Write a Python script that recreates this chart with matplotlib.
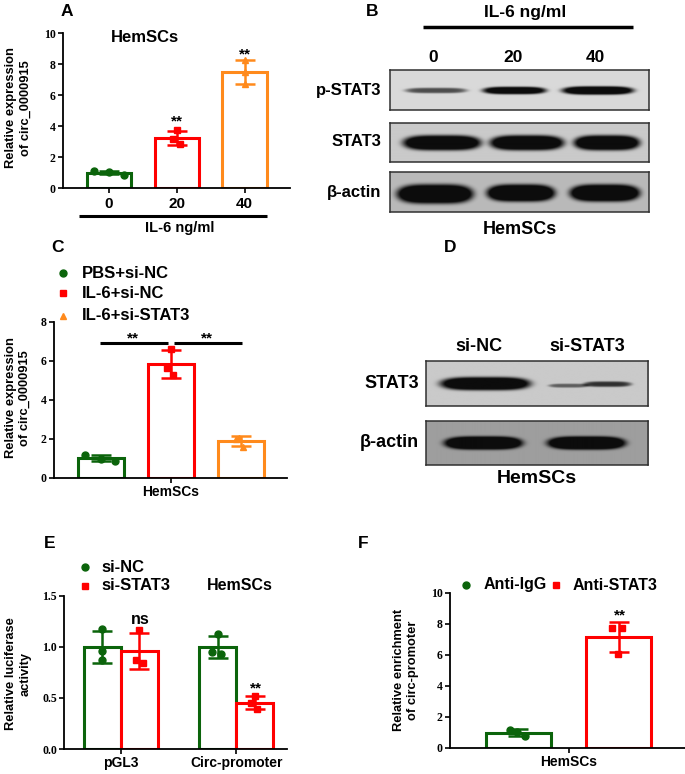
import numpy as np
import matplotlib
matplotlib.use('Agg')
import matplotlib.pyplot as plt
from matplotlib.lines import Line2D

W, H = 685, 774
fig = plt.figure(figsize=(W / 100, H / 100), dpi=100)
SANS = 'Liberation Sans'
SERIF = 'Liberation Serif'
GREEN = '#0b640b'
RED = '#ff0000'
ORANGE = '#ff8a1c'

# ---------------- data ----------------
A_doses = ['0', '20', '40']
A_vals = [[1.12, 1.05, 0.88], [3.75, 3.15, 2.85], [8.3, 7.5, 6.7]]

B_lanes = ['0', '20', '40']
B_rows = ['p-STAT3', 'STAT3', 'β-actin']
B_pSTAT3 = [0.5, 0.92, 1.0]
B_STAT3 = [1.0, 1.0, 1.0]
B_actin = [1.0, 1.0, 1.0]

C_groups = ['PBS+si-NC', 'IL-6+si-NC', 'IL-6+si-STAT3']
C_vals = [[1.15, 0.98, 0.85], [6.62, 5.65, 5.25], [2.05, 1.98, 1.57]]

D_lanes = ['si-NC', 'si-STAT3']
D_rows = ['STAT3', 'β-actin']
D_STAT3 = [1.0, 0.55]
D_actin = [0.9, 0.9]

E_groups = ['pGL3', 'Circ-promoter']
E_series = ['si-NC', 'si-STAT3']
E_siNC = [[1.17, 0.96, 0.87], [1.125, 0.95, 0.93]]
E_siSTAT3 = [[1.16, 0.87, 0.84], [0.52, 0.45, 0.39]]

F_series = ['Anti-IgG', 'Anti-STAT3']
F_vals = [[1.14, 1.03, 0.75], [7.75, 7.7, 6.05]]


# ---------------- helpers ----------------
def px_axes(x0, y0, x1, y1):
    return fig.add_axes([x0 / W, 1 - y1 / H, (x1 - x0) / W, (y1 - y0) / H])


def ptext(x, y, s, size, ha='center', va='center', **kw):
    fig.text(x / W, 1 - y / H, s, fontsize=size, fontweight='bold',
             family=SANS, ha=ha, va=va, **kw)


def pline(x0, x1, y, lw=2.2):
    fig.add_artist(Line2D([x0 / W, x1 / W], [1 - y / H, 1 - y / H],
                          lw=lw, color='black', solid_capstyle='butt'))


def pmarker(x, y, marker, color, ms):
    fig.add_artist(Line2D([x / W], [1 - y / H], marker=marker, color=color,
                          markersize=ms, linestyle='none'))


def style_axes(ax, ylim, yticks, fmt):
    for s in ['top', 'right']:
        ax.spines[s].set_visible(False)
    for s in ['left', 'bottom']:
        ax.spines[s].set_linewidth(1.3)
    ax.set_ylim(*ylim)
    ax.set_yticks(yticks)
    ax.set_yticklabels([fmt.format(t) for t in yticks], family=SERIF,
                       fontweight='bold', fontsize=8.5)
    ax.tick_params(axis='both', length=3.3, width=1.2, pad=2)
    ax.patch.set_alpha(0)


def bar_group(ax, x, pts, color, marker, width, offs, ms=5):
    pts = np.asarray(pts)
    m = pts.mean()
    sd = pts.std(ddof=1)
    ax.bar(x, m, width, facecolor='white', edgecolor=color, linewidth=2.2,
           zorder=2)
    ax.errorbar(x, m, yerr=sd, fmt='none', ecolor=color, elinewidth=1.8,
                capsize=7, capthick=1.8, zorder=3)
    ax.plot(x + np.asarray(offs), pts, linestyle='none', marker=marker,
            color=color, markersize=ms, zorder=4, clip_on=False)


def blot(box, bg, bands):
    x0, y0, x1, y1 = box
    ax = px_axes(x0, y0, x1, y1)
    nx, ny = int((x1 - x0) * 3), int((y1 - y0) * 3)
    X, Y = np.meshgrid(np.linspace(x0, x1, nx), np.linspace(y0, y1, ny))
    img = np.full(X.shape, bg)
    for xc, hw, yc, hh, s in bands:
        d = (np.abs(X - xc) / hw) ** 4 + (np.abs(Y - yc) / hh) ** 2
        img -= s * 1.1 * np.exp(-d ** 2.2)
    img = np.clip(img, 0.05, 1)
    ax.imshow(img, cmap='gray', vmin=0, vmax=1, extent=[x0, x1, y1, y0],
              aspect='auto', interpolation='bilinear')
    ax.set_xticks([])
    ax.set_yticks([])
    for s in ax.spines.values():
        s.set_linewidth(1.1)
        s.set_color('#303030')
    return ax


def ylabel2(x, y, s, size=9.3):
    fig.text(x / W, 1 - y / H, s, fontsize=size, fontweight='bold',
             family=SANS, ha='center', va='center', rotation=90,
             linespacing=1.25, multialignment='center')


# ================= Panel A =================
axA = px_axes(63, 33.3, 290, 188.3)
style_axes(axA, (0, 10), [0, 2, 4, 6, 8, 10], '{:d}')
colsA = [GREEN, RED, ORANGE]
mksA = ['o', 's', '^']
offsA = [[-0.22, 0, 0.22], [0, -0.05, 0.05], [0, 0, 0]]
for i, pts in enumerate(A_vals):
    bar_group(axA, i, pts, colsA[i], mksA[i], 0.65, offsA[i])
axA.set_xlim(-0.676, 2.67)
axA.set_xticks(range(3))
axA.set_xticklabels(A_doses, family=SANS, fontweight='bold', fontsize=11)
axA.tick_params(axis='x', pad=3)
ptext(67, 12, 'A', 12.5)
ptext(145, 38, 'HemSCs', 12)
ptext(177, 121, '**', 11)
ptext(245, 54, '**', 11)
pline(79, 267, 216)
ptext(180, 228, 'IL-6 ng/ml', 10.5)
ylabel2(18.5, 108, 'Relative expression\nof circ_0000915')

# ================= Panel B =================
ptext(372, 11, 'B', 12.5)
ptext(525, 13, 'IL-6 ng/ml', 12.5)
pline(423, 633, 27, lw=2.5)
laneB = [433, 513, 595]
for x, s in zip(laneB, B_lanes):
    ptext(x, 57, s, 12.5)
blot((390, 70, 649, 110), 0.85,
     [(436, 31, 90.5, 2.8, B_pSTAT3[0]), (514.5, 32, 90.5, 3.8, B_pSTAT3[1]),
      (598, 36, 90.5, 4.2, B_pSTAT3[2])])
blot((390, 122.7, 649, 161.7), 0.79,
     [(442, 39, 142.5, 7.5, B_STAT3[0]), (527, 37, 142.5, 7.5, B_STAT3[1]),
      (607, 33, 142.5, 7.5, B_STAT3[2])])
blot((390, 172, 649, 212), 0.73,
     [(435, 38, 194, 9.5, B_actin[0]), (521, 34, 193, 8.5, B_actin[1]),
      (605, 35, 193, 8.5, B_actin[2])])
for y, s in zip([90, 142, 193], B_rows):
    ptext(381, y, s, 12, ha='right')
ptext(520, 230, 'HemSCs', 13)

# ================= Panel C =================
axC = px_axes(54, 321.7, 287, 477.7)
style_axes(axC, (0, 8), [0, 2, 4, 6, 8], '{:d}')
offsC = [[-0.23, 0, 0.2], [0, -0.06, 0.03], [-0.03, -0.065, 0.04]]
for i, pts in enumerate(C_vals):
    bar_group(axC, i, pts, colsA[i], mksA[i], 0.657, offsC[i])
axC.set_xlim(-0.671, 2.664)
axC.set_xticks([1])
axC.set_xticklabels(['HemSCs'], family=SANS, fontweight='bold', fontsize=10)
ptext(58, 248, 'C', 12.5)
for y, s, c, mk in zip([273.3, 293.3, 316], C_groups, colsA, mksA):
    pmarker(63, y, mk, c, 5)
    ptext(82, y, s, 12, ha='left')
pline(100, 168, 342.7, lw=2.2)
pline(174, 242, 342.7, lw=2.2)
ptext(133, 338, '**', 11)
ptext(207, 338, '**', 11)
ylabel2(18, 398, 'Relative expression\nof circ_0000915')

# ================= Panel D =================
ptext(450, 248, 'D', 12.5)
ptext(479, 346, D_lanes[0], 13)
ptext(587, 346, D_lanes[1], 13)
blot((425.7, 361, 648.3, 405.7), 0.79,
     [(485, 45, 383.5, 6.5, D_STAT3[0]),
      (568, 20, 385.5, 2.0, D_STAT3[1] * 0.7),
      (607, 24, 384.0, 2.8, D_STAT3[1])])
blot((425.7, 421, 648.3, 465), 0.62,
     [(483, 39, 443, 6.5, D_actin[0]), (586, 39, 443, 6.5, D_actin[1])])
ptext(419, 383, D_rows[0], 13, ha='right')
ptext(419, 442, D_rows[1], 13, ha='right')
ptext(537, 479, 'HemSCs', 14)

# ================= Panel E =================
axE = px_axes(64.3, 595.7, 287, 749)
style_axes(axE, (0, 1.5), [0, 0.5, 1.0, 1.5], '{:.1f}')
bw = 0.32
offsE1 = [[0, 0, 0], [0, -0.045, 0.03]]
offsE2 = [[0, -0.025, 0.03], [0, -0.035, 0.02]]
for i in range(2):
    bar_group(axE, i - bw / 2, E_siNC[i], GREEN, 'o', bw, offsE1[i])
    bar_group(axE, i + bw / 2, E_siSTAT3[i], RED, 's', bw, offsE2[i])
axE.set_xlim(-0.488, 1.44)
axE.set_xticks([0, 1])
axE.set_xticklabels(E_groups, family=SANS, fontweight='bold', fontsize=10)
ptext(50, 543, 'E', 12.5)
pmarker(85, 567, 'o', GREEN, 5)
ptext(101, 567, E_series[0], 12, ha='left')
pmarker(85, 586, 's', RED, 5)
ptext(101, 586, E_series[1], 12, ha='left')
ptext(240, 586, 'HemSCs', 11.5)
ptext(140, 620, 'ns', 11.5)
ptext(256, 688, '**', 11)
ylabel2(18, 674, 'Relative luciferase\nactivity')

# ================= Panel F =================
axF = px_axes(450, 592.7, 685, 747.7)
style_axes(axF, (0, 10), [0, 2, 4, 6, 8, 10], '{:d}')
bar_group(axF, 0, F_vals[0], GREEN, 'o', 0.65, [-0.08, -0.015, 0.07])
bar_group(axF, 1, F_vals[1], RED, 's', 0.65, [-0.07, 0.03, -0.01])
axF.set_xlim(-0.68, 1.66)
axF.set_xticks([0.5])
axF.set_xticklabels(['HemSCs'], family=SANS, fontweight='bold', fontsize=10)
ptext(363, 543, 'F', 12.5)
pmarker(466, 585, 'o', GREEN, 5)
ptext(484, 585, F_series[0], 11.5, ha='left')
pmarker(556, 585, 's', RED, 5)
ptext(573, 585, F_series[1], 11.5, ha='left')
ptext(620, 615, '**', 11)
ylabel2(406, 670, 'Relative enrichment\nof circ-promoter')

fig.savefig('out.png', dpi=100)
